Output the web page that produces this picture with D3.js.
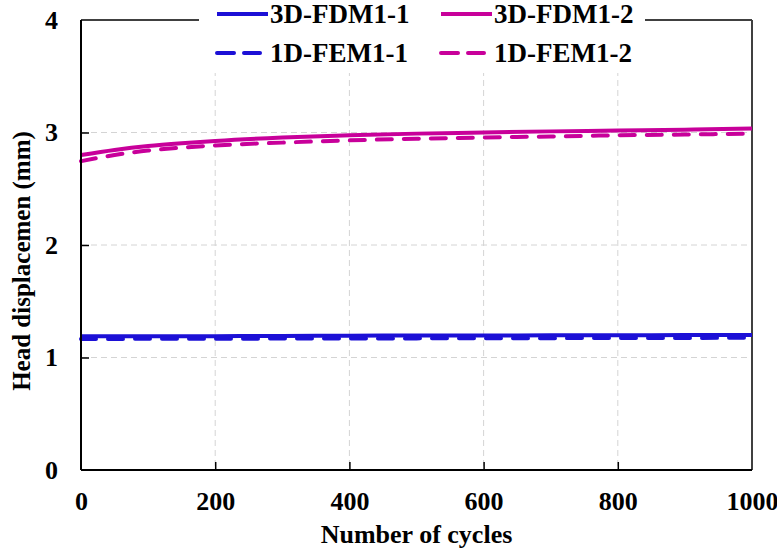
<!DOCTYPE html>
<html>
<head>
<meta charset="utf-8">
<script src="https://cdn.jsdelivr.net/npm/d3@7"></script>
<style>
  body { margin: 0; background: #fff; }
  svg { display: block; }
  text { font-family: "Liberation Serif", "Times New Roman", serif; font-weight: bold; fill: #000; }
</style>
</head>
<body>
<svg id="chart" width="777" height="549"></svg>
<script>
// ---- data ----
const cycles = [0, 50, 100, 150, 200, 300, 400, 500, 600, 700, 800, 900, 1000];
const fdm1_1 = [1.19, 1.19, 1.19, 1.19, 1.19, 1.192, 1.194, 1.195, 1.196, 1.197, 1.198, 1.199, 1.2];
const fdm1_2 = [2.80, 2.845, 2.88, 2.905, 2.925, 2.955, 2.975, 2.99, 3.0, 3.01, 3.017, 3.025, 3.035];
const fem1_1 = [1.165, 1.165, 1.166, 1.166, 1.167, 1.168, 1.169, 1.17, 1.171, 1.172, 1.173, 1.174, 1.175];
const fem1_2 = [2.745, 2.80, 2.84, 2.865, 2.885, 2.91, 2.93, 2.945, 2.955, 2.965, 2.975, 2.982, 2.99];
const xTicks = [0, 200, 400, 600, 800, 1000];
const yTicks = [0, 1, 2, 3, 4];
const seriesNames = ["3D-FDM1-1", "3D-FDM1-2", "1D-FEM1-1", "1D-FEM1-2"];
const xTitle = "Number of cycles";
const yTitle = "Head displacemen (mm)";

const BLUE = "#1c10d6", MAG = "#c8009a";
const series = [
  { name: seriesNames[0], values: fdm1_1, color: BLUE, dash: null },
  { name: seriesNames[1], values: fdm1_2, color: MAG, dash: null },
  { name: seriesNames[2], values: fem1_1, color: BLUE, dash: "15,12" },
  { name: seriesNames[3], values: fem1_2, color: MAG, dash: "15,12" }
];

const svg = d3.select("#chart");
const m = { left: 81, top: 20, right: 25, bottom: 79 };
const W = 777 - m.left - m.right, H = 549 - m.top - m.bottom;
const x = d3.scaleLinear().domain([0, 1000]).range([0, W]);
const y = d3.scaleLinear().domain([0, 4]).range([H, 0]);
const g = svg.append("g").attr("transform", `translate(${m.left},${m.top})`);

// grid
g.append("g").selectAll("line").data(xTicks.slice(1, -1)).join("line")
  .attr("x1", d => x(d)).attr("x2", d => x(d)).attr("y1", 0).attr("y2", H)
  .attr("stroke", "#d4d4d4").attr("stroke-width", 1).attr("stroke-dasharray", "6,4");
g.append("g").selectAll("line").data(yTicks.slice(1, -1)).join("line")
  .attr("x1", 0).attr("x2", W).attr("y1", d => y(d)).attr("y2", d => y(d))
  .attr("stroke", "#d4d4d4").attr("stroke-width", 1).attr("stroke-dasharray", "6,4");

// frame: top and right
g.append("line").attr("x1", 0).attr("x2", W).attr("y1", 0).attr("y2", 0)
  .attr("stroke", "#000").attr("stroke-width", 1.5);
g.append("line").attr("x1", W).attr("x2", W).attr("y1", 0).attr("y2", H)
  .attr("stroke", "#404040").attr("stroke-width", 2);

// lines
const line = d3.line().x((d, i) => x(cycles[i])).y(d => y(d)).curve(d3.curveMonotoneX);
series.forEach(s => {
  g.append("path").datum(s.values).attr("d", line)
    .attr("fill", "none").attr("stroke", s.color).attr("stroke-width", 4)
    .attr("stroke-dasharray", s.dash).attr("stroke-linecap", s.dash ? "round" : "butt");
});

// axes
const xAxis = g.append("g").attr("transform", `translate(0,${H})`)
  .call(d3.axisBottom(x).tickValues(xTicks).tickSize(-8).tickPadding(22).tickFormat(d3.format("d")));
const yAxis = g.append("g")
  .call(d3.axisLeft(y).tickValues(yTicks).tickSize(-8).tickPadding(23).tickFormat(d3.format("d")));
[xAxis, yAxis].forEach(a => {
  a.select(".domain").attr("stroke", "#000").attr("stroke-width", 2);
  a.selectAll(".tick line").attr("stroke", "#000").attr("stroke-width", 1.5);
  a.selectAll(".tick text").attr("font-size", 26).attr("font-family", "Liberation Serif").attr("font-weight", "bold").attr("fill", "#000");
});
xAxis.select(".domain").attr("d", `M0,0H${W}`);
yAxis.select(".domain").attr("d", `M0,${H}V0`);
xAxis.selectAll(".tick line").filter(d => d === 0 || d === 1000).remove();
yAxis.selectAll(".tick line").filter(d => d === 0 || d === 4).remove();

// legend background
const leg = svg.append("g");
leg.append("rect").attr("x", 199).attr("y", 0).attr("width", 446).attr("height", 73).attr("fill", "#fff");
const legPos = [
  { s: series[0], lx: 217, ly: 14, len: 51 },
  { s: series[1], lx: 441, ly: 14, len: 51 },
  { s: series[2], lx: 217, ly: 53, len: 43 },
  { s: series[3], lx: 441, ly: 53, len: 43 }
];
legPos.forEach(p => {
  leg.append("line").attr("x1", p.lx).attr("x2", p.lx + p.len).attr("y1", p.ly).attr("y2", p.ly)
    .attr("stroke", p.s.color).attr("stroke-width", 4)
    .attr("stroke-dasharray", p.s.dash ? "17,10" : null)
    .attr("stroke-linecap", p.s.dash ? "round" : "butt");
  leg.append("text").attr("x", p.lx + 53).attr("y", p.ly).attr("dy", "0.35em")
    .attr("font-size", 27).text(p.s.name);
});

// titles
svg.append("text").attr("x", m.left + W / 2).attr("y", 543).attr("text-anchor", "middle")
  .attr("font-size", 26).text(xTitle);
svg.append("text").attr("transform", `translate(30,${m.top + H / 2 + 16}) rotate(-90)`)
  .attr("text-anchor", "middle").attr("font-size", 25).text(yTitle);
</script>
</body>
</html>
